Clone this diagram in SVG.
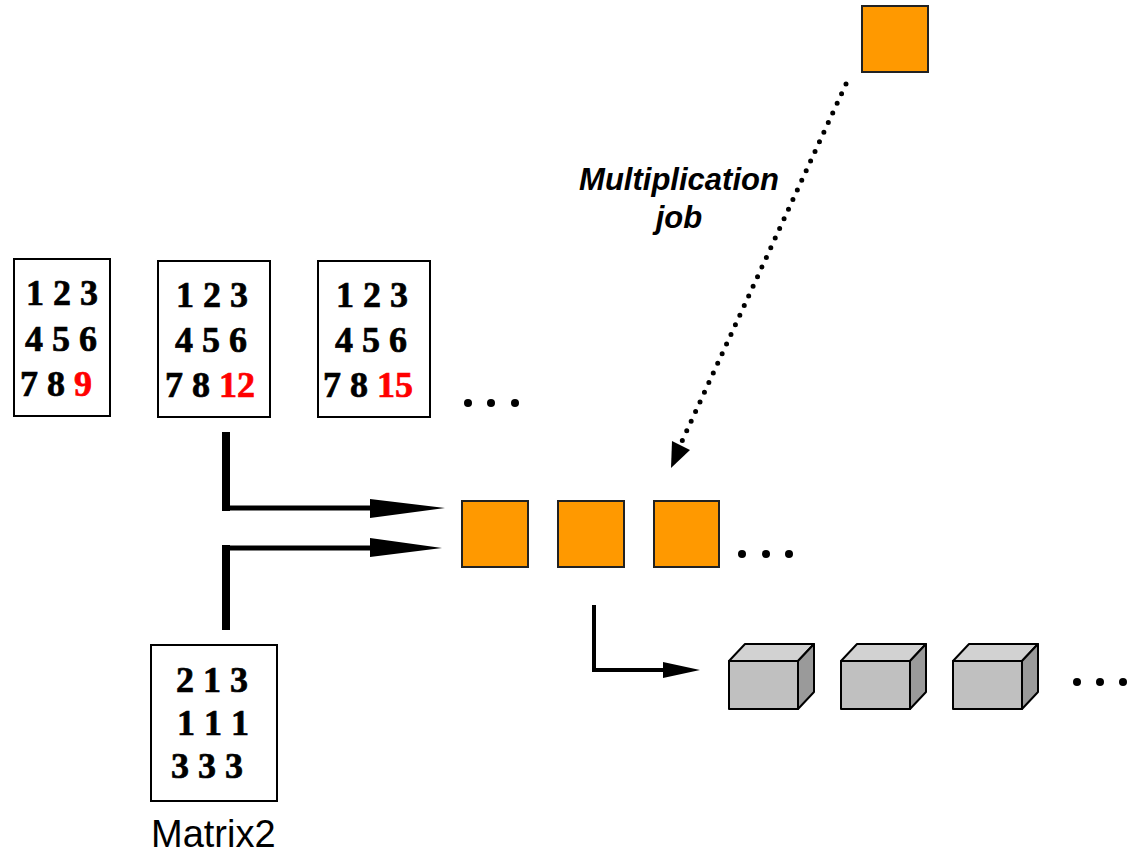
<svg xmlns="http://www.w3.org/2000/svg" width="1132" height="855" viewBox="0 0 1132 855">
<style>
.mbox{fill:#fff;stroke:#000;stroke-width:2}
.num{font-family:"Liberation Serif","Times New Roman",serif;font-weight:bold;font-size:36px;fill:#000;stroke:#000;stroke-width:0.7}
.red{fill:#ff0000;stroke:#ff0000}
.job{fill:#ff9900;stroke:#222;stroke-width:2}
.front{fill:#c0c0c0;stroke:#000;stroke-width:2;stroke-linejoin:round}
.top{fill:#d2d2d2;stroke:#000;stroke-width:2;stroke-linejoin:round}
.side{fill:#9a9a9a;stroke:#000;stroke-width:2;stroke-linejoin:round}
.dot{fill:#000}
.lbl{font-family:"Liberation Sans",Arial,sans-serif;fill:#000}
</style>
<defs>
<g id="cube">
<polygon class="top" points="0,0 16,-17 85,-17 69,0"/>
<polygon class="side" points="69,0 85,-17 85,31 69,48"/>
<rect class="front" x="0" y="0" width="69" height="48"/>
</g>
</defs>

<g id="matrix1a">
<rect class="mbox" x="14" y="259" width="96" height="157"/>
<text class="num" x="26" y="305">1 2 3</text>
<text class="num" x="25" y="351">4 5 6</text>
<text class="num" x="20" y="396">7 8 <tspan class="red">9</tspan></text>
</g>
<g id="matrix1b">
<rect class="mbox" x="158" y="261" width="112" height="156"/>
<text class="num" x="176" y="307">1 2 3</text>
<text class="num" x="175" y="352">4 5 6</text>
<text class="num" x="165" y="397">7 8 <tspan class="red">12</tspan></text>
</g>
<g id="matrix1c">
<rect class="mbox" x="318" y="261" width="112" height="156"/>
<text class="num" x="336" y="307">1 2 3</text>
<text class="num" x="335" y="352">4 5 6</text>
<text class="num" x="323" y="397">7 8 <tspan class="red">15</tspan></text>
</g>
<g id="matrix-dots">
<circle class="dot" cx="468" cy="403" r="4"/>
<circle class="dot" cx="491" cy="403" r="4"/>
<circle class="dot" cx="515" cy="403" r="4"/>
</g>
<g id="matrix2">
<rect class="mbox" x="151" y="645" width="126" height="156"/>
<text class="num" x="176" y="692">2 1 3</text>
<text class="num" x="177" y="735">1 1 1</text>
<text class="num" x="171" y="778">3 3 3</text>
<text class="lbl" x="151" y="847" font-size="38">Matrix2</text>
</g>

<g id="job-source">
<rect class="job" x="862" y="6" width="66" height="66"/>
</g>
<g id="job-queue">
<rect class="job" x="462" y="501" width="66" height="66"/>
<rect class="job" x="558" y="501" width="66" height="66"/>
<rect class="job" x="654" y="501" width="65" height="66"/>
<circle class="dot" cx="742" cy="554" r="4"/>
<circle class="dot" cx="766" cy="554" r="4"/>
<circle class="dot" cx="789" cy="554" r="4"/>
</g>
<g id="workers">
<use href="#cube" x="729" y="661"/>
<use href="#cube" x="841" y="661"/>
<use href="#cube" x="953" y="661"/>
<circle class="dot" cx="1077" cy="682" r="4"/>
<circle class="dot" cx="1100" cy="682" r="4"/>
<circle class="dot" cx="1123" cy="682" r="4"/>
</g>

<g id="connectors">
<rect x="222" y="432" width="8" height="79" fill="#000"/>
<line x1="222" y1="508" x2="375" y2="508" stroke="#000" stroke-width="5"/>
<polygon points="370,499 445,508 370,518" fill="#000"/>

<rect x="222" y="545" width="8" height="85" fill="#000"/>
<line x1="222" y1="548" x2="375" y2="548" stroke="#000" stroke-width="5"/>
<polygon points="370,538 442,548 370,557" fill="#000"/>

<path d="M594,605 V670 H668" fill="none" stroke="#000" stroke-width="4"/>
<polygon points="663,662 700,670 663,678" fill="#000"/>

<line x1="846" y1="84" x2="677" y2="452" stroke="#000" stroke-width="5" stroke-linecap="round" stroke-dasharray="0 10.6"/>
<polygon points="671,468 672,441 690,450" fill="#000"/>
<text class="lbl" x="679" y="190" font-size="31" font-weight="bold" font-style="italic" text-anchor="middle">Multiplication</text>
<text class="lbl" x="679" y="228" font-size="31" font-weight="bold" font-style="italic" text-anchor="middle">job</text>
</g>
</svg>
